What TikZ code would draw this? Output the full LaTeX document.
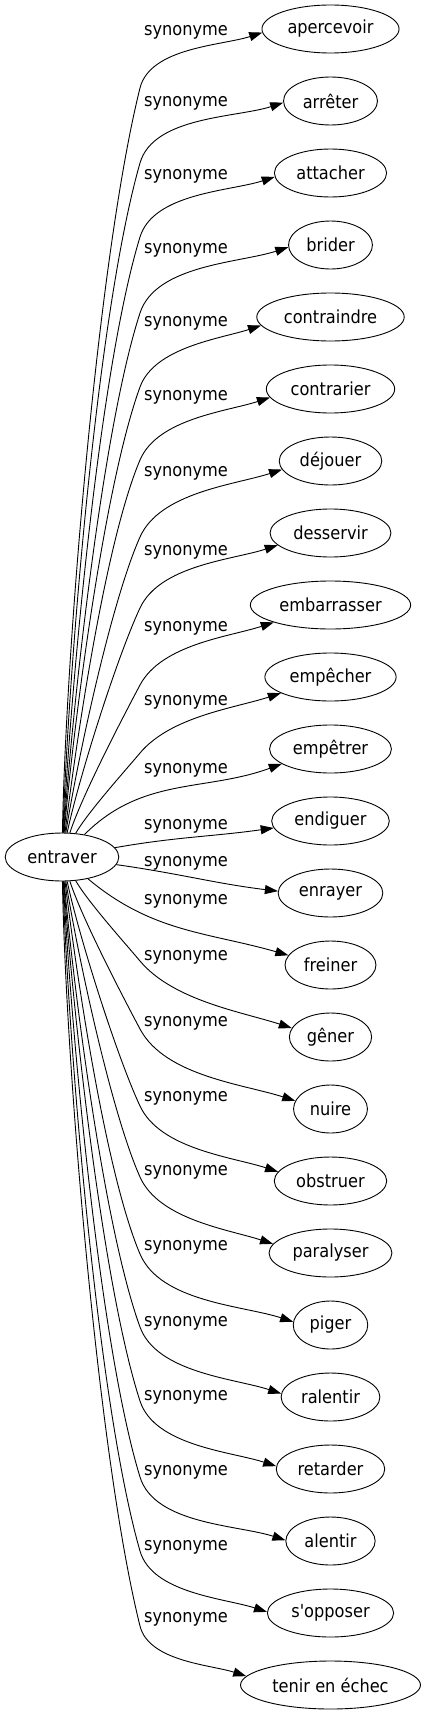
\documentclass[tikz,border=0pt]{standalone}
\usepackage{fontspec}
\setmainfont{DejaVu Sans Condensed}
\usetikzlibrary{arrows.meta, shapes.geometric}

\begin{document}
\begin{tikzpicture}[x=1pt, y=1pt, >={Triangle[length=13pt, width=9pt]},
	word/.style={draw, ellipse, line width=.9pt, minimum height=48pt,
		inner xsep=5.5pt, inner ysep=2pt, font=\fontsize{18}{20}\selectfont},
	syn/.style={inner sep=0pt, font=\fontsize{18}{20}\selectfont},
	rel/.style={->, line width=.9pt}]
	\useasboundingbox (0,0) rectangle (423,-1715);
	
	\node[word] (entraver) at (62,-857) {entraver};
	\foreach \i/\name/\txt in {1/apercevoir/apercevoir, 2/arreter/arrêter,
		3/attacher/attacher, 4/brider/brider, 5/contraindre/contraindre,
		6/contrarier/contrarier, 7/dejouer/déjouer, 8/desservir/desservir,
		9/embarrasser/embarrasser, 10/empecher/empêcher, 11/empetrer/empêtrer,
		12/endiguer/endiguer, 13/enrayer/enrayer, 14/freiner/freiner,
		15/gener/gêner, 16/nuire/nuire, 17/obstruer/obstruer,
		18/paralyser/paralyser, 19/piger/piger, 20/ralentir/ralentir,
		21/retarder/retarder, 22/alentir/alentir,
		23/sopposer/{s\textquotesingle{}opposer}, 24/tenir/tenir en échec}
		\node[word] (\name) at (330.5,{-29-72*(\i-1)}) {\txt};
	
	% upper edges: up to the knee, then into the word
	\foreach \name/\ly/\ky/\a/\t/\e [evaluate=\t as \tb using int(\t+180)] in
		{apercevoir/32/88/89/76/183, arreter/103/163/88/74/182,
		attacher/176/237/87/73/184, brider/250/313/86/72/183,
		contraindre/323/387/85/70/187, contrarier/397/460/83/67/188,
		dejouer/473/537/81/66/190, desservir/552/608/78/65/193,
		embarrasser/628/685/72/62/197, empecher/702/753/60/50/198}
	{
		\coordinate (k-\name) at (140,-\ky);
		\draw[rel] (entraver) to[out=\a, in=\tb, looseness=.6] (k-\name)
			to[out=\t, in=198, looseness=.8] (\name.\e);
		\node[syn] (s-\name) at (186,-\ly) {synonyme};
	}
	% lower edges, mirrored
	\foreach \name/\ly/\ky/\a/\t/\e [evaluate=\t as \tb using int(180-\t)] in
		{gener/957/961/60/50/167, nuire/1023/1029/72/62/167,
		obstruer/1098/1106/78/65/170, paralyser/1172/1177/81/66/171,
		piger/1247/1254/83/67/175, ralentir/1323/1327/85/70/176,
		retarder/1397/1401/86/72/177, alentir/1472/1477/87/73/179,
		sopposer/1547/1551/88/74/179, tenir/1619/1626/89/76/174}
	{
		\coordinate (k-\name) at (140,-\ky);
		\draw[rel] (entraver) to[out=-\a, in=\tb, looseness=.6] (k-\name)
			to[out=-\t, in=162, looseness=.8] (\name.\e);
		\node[syn] (s-\name) at (186,-\ly) {synonyme};
	}
	
	\draw[rel] (entraver) to[out=45, in=200] (empetrer.197);
	\node[syn] (s-empetrer) at (186,-770) {synonyme};
	\draw[rel] (entraver) to[out=10, in=188] (endiguer.187);
	\node[syn] (s-endiguer) at (186,-826) {synonyme};
	\draw[rel] (entraver) to[out=-8, in=173] (enrayer.178);
	\node[syn] (s-enrayer) at (186,-863) {synonyme};
	\draw[rel] (entraver) to[out=-40, in=164] (freiner.167);
	\node[syn] (s-freiner) at (186,-901) {synonyme};
\end{tikzpicture}
\end{document}
